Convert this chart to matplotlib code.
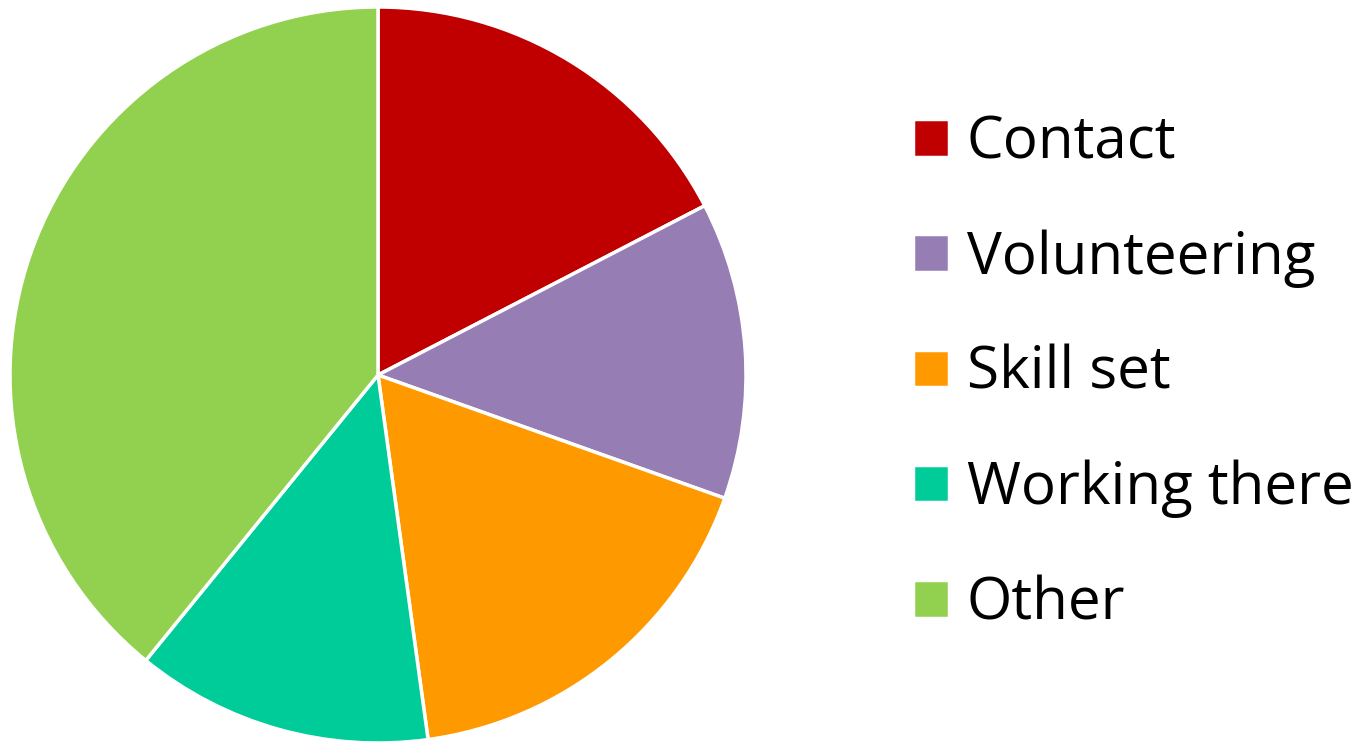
import matplotlib.pyplot as plt

categories = ["Contact", "Volunteering", "Skill set", "Working there", "Other"]
counts = [4, 3, 4, 3, 9]
colors = ["#C00000", "#967DB4", "#FF9900", "#00CC99", "#92D050"]

plt.rcParams['font.family'] = ['Open Sans', 'DejaVu Sans']

fig = plt.figure(figsize=(13.68, 7.43), dpi=100)
ax = fig.add_axes([10 / 1368, 0, 736 / 1368, 736 / 743])

wedges, _ = ax.pie(counts, colors=colors, startangle=90, counterclock=False,
                   wedgeprops={'edgecolor': 'white', 'linewidth': 2.5})
ax.set_xlim(-1.0, 1.0)
ax.set_ylim(-1.0, 1.0)
ax.set_aspect('equal')

fig.legend(wedges, categories, loc='center left', bbox_to_anchor=(913 / 1368, 0.497),
           frameon=False, fontsize=42, handlelength=0.62, handleheight=0.62,
           handletextpad=0.3, labelspacing=0.97, borderpad=0, borderaxespad=0)

fig.savefig("out.png", dpi=100)
